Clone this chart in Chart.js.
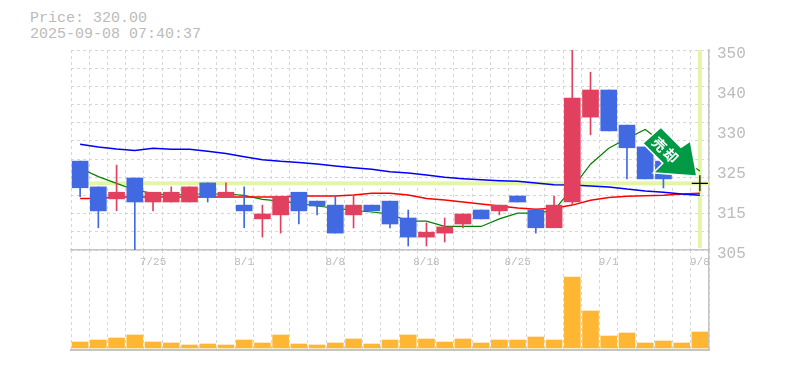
<!DOCTYPE html>
<html>
<head>
<meta charset="utf-8">
<script src="https://cdn.jsdelivr.net/npm/chart.js@4/dist/chart.umd.min.js"></script>
<style>
  html, body { margin: 0; padding: 0; background: #fff; }
  body { width: 785px; height: 370px; position: relative; overflow: hidden; }
  canvas { position: absolute; left: 0; }
  #price-info { position: absolute; left: 30px; top: 11px; font: 15px/16px "Liberation Mono", monospace; color: #bbb; white-space: pre; }
</style>
</head>
<body>
<div id="price-info">Price: 320.00
2025-09-08 07:40:37</div>
<canvas id="volume-chart" width="785" height="105" style="top:250px"></canvas>
<canvas id="price-chart" width="785" height="270" style="top:0"></canvas>
<script>
// --- Data ---
const dates = ['7/18','7/22','7/23','7/24','7/25','7/28','7/29','7/30','7/31','8/1','8/4','8/5','8/6','8/7','8/8','8/12','8/13','8/14','8/15','8/18','8/19','8/20','8/21','8/22','8/25','8/26','8/27','8/28','8/29','9/1','9/2','9/3','9/4','9/5','9/8'];
const xTickLabels = ['7/25','8/1','8/8','8/18','8/25','9/1','9/8'];
const yTickLabels = ['350','340','330','325','315','305'];

const opens  = [325,319.2,316.5,321.2,315.8,315.8,315.8,320.1,316.9,315.1,312,312.9,318,316,315.1,312.9,315.1,316,312.2,307.9,308.8,310.85,314,313.8,317.15,314,310,315.8,334.9,341,333.1,328.2,325,324.5,320];
const closes = [319,313.8,318,315.8,318,318,319.2,316.9,318,313.8,313.1,317.1,313.8,314.9,308.8,315.1,313.8,310.85,307.9,309,310.2,313.1,312,315.1,315.8,310,315.1,339.2,341,331.8,328,321,321,322,320];
const highs  = [325,319.2,324.1,321.2,318,319.2,319.2,320.1,320.1,319.2,315.1,317.1,318,316,317.15,317.15,315.1,316,314,311.1,312.2,313.1,314,315.1,317.15,314,317.15,352,345,341,333.1,328.2,325,324.5,320];
const lows   = [317,310,313.8,305,313.8,315.8,315.8,315.8,316.9,310,307.9,308.8,310.85,312.9,308.8,309.95,313.8,309.95,305.9,305.9,306.8,309.95,312,312.9,315.8,308.8,310,315.3,330.9,331.8,321,321,318.95,322,320];

const maLong  = [328.8,328.2,327.7,327.4,327.9,327.65,327.65,327.2,326.7,326,325.3,324.95,324.7,324.35,323.9,323.5,323.15,322.6,322.3,321.9,321.35,321.05,320.8,320.6,320.45,320.05,319.7,319.6,319.4,319.2,318.7,318.3,318,317.6,317.3];
const maMid   = [316.6,316.6,316.9,316.9,316.9,316.9,316.9,316.9,316.9,316.9,316.9,316.9,317.15,317.15,317.15,317.35,317.75,317.75,317.35,316.6,316.25,315.8,315.35,314.9,314.45,314.15,314.4,315.1,316.2,316.8,317.1,317.2,317.3,317.6,317.75];
const maShort = [323.4,321.5,320,318.5,317.75,317.3,317.6,317.6,317.6,317.3,316.4,316,315.5,314.9,314.4,313.9,313.55,313.1,311.5,311.5,310.3,310.3,310.3,312,313.3,313.3,313.9,318.9,324.3,327.9,330.1,332.1,329,325.6,322.8];

const volumes = [6,8,10,13,6,5,3,4,3,8,5,13,4,3,5,9,4,8,13,9,6,9,5,8,8,11,8,71,37,12,15,5,7,5,16];

const lastPrice = 320;
const priceMin = 305;
const priceMax = 350;
const gridRows = 11;

// --- Colours ---
const upColor = '#e2405f';
const downColor = '#4169e1';
const volColor = '#ffb733';
const gridColor = '#d6d6d6';
const axisColor = '#c4c4c4';
const bandColor = '#e4f5a8';
const labelColor = '#bbb';

const candleColors = opens.map((o, i) => closes[i] >= o ? upColor : downColor);

// --- Crosshair band behind the candles ---
const crosshairBand = {
    id: 'crosshairBand',
    beforeDatasetsDraw(chart) {
        const { ctx, chartArea, scales } = chart;
        const px = scales.x.getPixelForValue(dates.length - 1);
        const py = scales.y.getPixelForValue(lastPrice);
        ctx.save();
        ctx.fillStyle = bandColor;
        ctx.fillRect(chartArea.left, py - 2, chartArea.width, 4);
        ctx.fillRect(px - 2, chartArea.top, 4, chartArea.height - 2);
        ctx.restore();
    }
};

// --- Green signal arrow, placed relative to the last candle ---
const signalArrow = {
    id: 'signalArrow',
    afterDatasetsDraw(chart) {
        const { ctx, scales } = chart;
        const tx = scales.x.getPixelForValue(dates.length - 1) - 4;
        const ty = scales.y.getPixelForValue(lastPrice) - 8;
        const shape = [[-35,-47],[-15,-27],[-6,-33],[0,0],[-41,-3],[-32,-12],[-52,-32]];
        ctx.save();
        ctx.beginPath();
        shape.forEach((p, i) => i ? ctx.lineTo(tx + p[0], ty + p[1]) : ctx.moveTo(tx + p[0], ty + p[1]));
        ctx.closePath();
        ctx.lineJoin = 'miter';
        ctx.lineWidth = 3;
        ctx.strokeStyle = '#fff';
        ctx.stroke();
        ctx.fillStyle = '#009944';
        ctx.fill();
        ctx.translate(tx - 30, ty - 24.5);
        ctx.rotate(Math.PI / 4);
        ctx.fillStyle = '#fff';
        ctx.font = 'bold 14px "Noto Sans CJK JP"';
        ctx.letterSpacing = '2px';
        ctx.textAlign = 'center';
        ctx.textBaseline = 'middle';
        ctx.fillText('売却', 0, 0);
        ctx.restore();
    }
};

function lineSet(data, color, width) {
    return { type: 'line', data: data, borderColor: color, borderWidth: width, pointRadius: 0, tension: 0, order: 3 };
}

const priceChart = new Chart(document.getElementById('price-chart'), {
    type: 'bar',
    plugins: [crosshairBand, signalArrow],
    data: {
        labels: dates,
        datasets: [
            lineSet(maLong, '#0000ff', 1.5),
            lineSet(maMid, '#ff0000', 1.5),
            lineSet(maShort, '#008000', 1.2),
            { data: dates.map((d, i) => [lows[i], highs[i]]), backgroundColor: candleColors, barThickness: 1, grouped: false, order: 2 },
            { data: dates.map((d, i) => [opens[i], closes[i]]), backgroundColor: candleColors, barThickness: 16, grouped: false, order: 1 },
            { type: 'line', data: dates.map((d, i) => i === dates.length - 1 ? lastPrice : null), showLine: false, pointStyle: 'cross', pointRadius: 8, borderColor: '#000', borderWidth: 1.2, order: 0 }
        ]
    },
    options: {
        responsive: false,
        animation: false,
        events: [],
        layout: { padding: { left: 71, top: 50 } },
        plugins: { legend: { display: false }, tooltip: { enabled: false } },
        scales: {
            x: {
                grid: { color: gridColor, drawTicks: false },
                border: { color: axisColor, width: 1.5, dash: [3, 3] },
                ticks: {
                    autoSkip: false, maxRotation: 0, padding: 5, color: labelColor,
                    font: { family: 'Liberation Mono', size: 11 },
                    callback(v) { const d = dates[v]; return xTickLabels.includes(d) ? d : ''; }
                },
                afterFit(s) { s.height = 20; }
            },
            y: {
                min: priceMin, max: priceMax,
                grid: { color: gridColor, drawTicks: false },
                border: { display: false, dash: [3, 3] },
                ticks: { display: false },
                afterBuildTicks(s) {
                    s.ticks = [];
                    for (let i = 0; i <= gridRows; i++) s.ticks.push({ value: priceMin + (priceMax - priceMin) * i / gridRows });
                },
                afterFit(s) { s.width = 0; }
            },
            yRight: {
                type: 'category', position: 'right', labels: yTickLabels, offset: false,
                grid: { display: false, drawTicks: false },
                border: { color: axisColor, width: 1.5 },
                ticks: { autoSkip: false, padding: 8, labelOffset: 4, color: labelColor, font: { family: 'Liberation Mono', size: 16 } },
                afterFit(s) { s.width = 76; }
            }
        }
    }
});

const volumeChart = new Chart(document.getElementById('volume-chart'), {
    type: 'bar',
    data: {
        labels: dates,
        datasets: [{ data: volumes, backgroundColor: volColor, barThickness: 16 }]
    },
    options: {
        responsive: false,
        animation: false,
        events: [],
        layout: { padding: { left: 71, bottom: 5 } },
        plugins: { legend: { display: false }, tooltip: { enabled: false } },
        scales: {
            x: {
                grid: { color: gridColor, drawTicks: false },
                border: { color: axisColor, width: 2, dash: [3, 3] },
                ticks: { display: false },
                afterFit(s) { s.height = 0; }
            },
            y: {
                position: 'right', min: -2, max: 98,
                grid: { display: false, drawTicks: false },
                border: { color: axisColor, width: 1.5 },
                ticks: { display: false },
                afterFit(s) { s.width = 76; }
            }
        }
    }
});
</script>
</body>
</html>
